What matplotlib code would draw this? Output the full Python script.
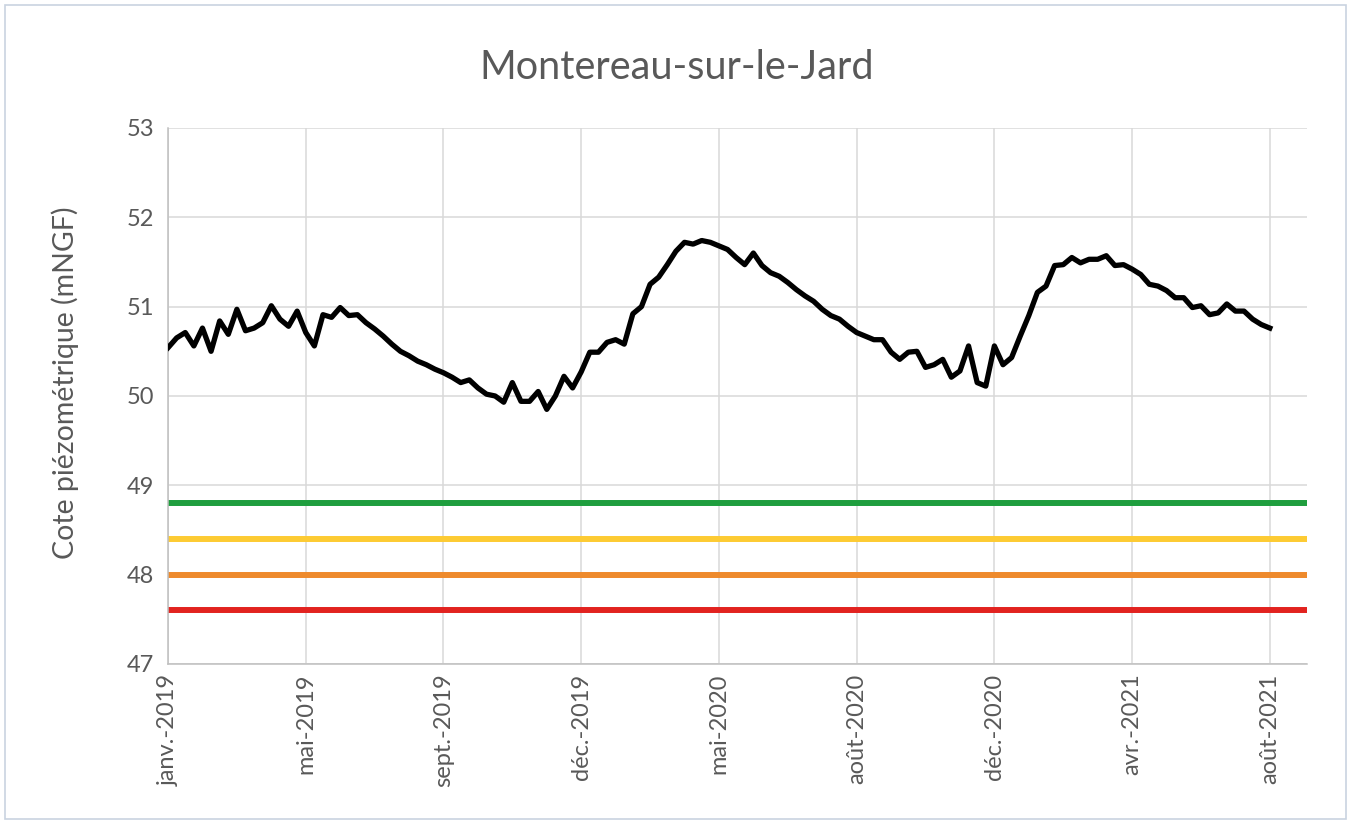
''' piezometric level - Montereau-sur-le-Jard '''

#%% import and data

import numpy as np
import matplotlib.pyplot as plt
from matplotlib.patches import Rectangle

# tick labels, one every 16 measurements
tickLabels = ['janv.-2019', 'mai-2019', 'sept.-2019', 'déc.-2019', 'mai-2020',
              'août-2020', 'déc.-2020', 'avr.-2021', 'août-2021']
nPerTick = 16

# measured level (mNGF)
level = [50.54, 50.65, 50.71, 50.56, 50.76, 50.50, 50.84, 50.69, 50.97, 50.73,
         50.76, 50.82, 51.01, 50.86, 50.78, 50.95, 50.71, 50.56, 50.91, 50.88,
         50.99, 50.90, 50.91, 50.82, 50.75, 50.67, 50.58, 50.50, 50.45, 50.39,
         50.35, 50.30, 50.26, 50.21, 50.15, 50.18, 50.09, 50.02, 50.00, 49.93,
         50.15, 49.94, 49.94, 50.05, 49.85, 50.00, 50.22, 50.09, 50.27, 50.49,
         50.49, 50.60, 50.63, 50.58, 50.92, 51.00, 51.25, 51.33, 51.47, 51.62,
         51.72, 51.70, 51.74, 51.72, 51.68, 51.64, 51.55, 51.47, 51.60, 51.46,
         51.38, 51.34, 51.27, 51.19, 51.12, 51.06, 50.97, 50.90, 50.86, 50.78,
         50.71, 50.67, 50.63, 50.63, 50.49, 50.41, 50.49, 50.50, 50.32, 50.35,
         50.41, 50.21, 50.28, 50.56, 50.15, 50.11, 50.56, 50.35, 50.43, 50.67,
         50.90, 51.16, 51.23, 51.46, 51.47, 51.55, 51.49, 51.53, 51.53, 51.57,
         51.46, 51.47, 51.42, 51.36, 51.25, 51.23, 51.18, 51.10, 51.10, 50.99,
         51.01, 50.91, 50.93, 51.03, 50.95, 50.95, 50.86, 50.80, 50.76]

# alert thresholds (mNGF)
thresholds = [48.8, 48.4, 48.0, 47.6]
thresholdColors = ['#1f9e3e', '#fdcb33', '#ee8a2c', '#e2231f']

#%% plot

x = np.arange(len(level))
grey = '#595959'

fig = plt.figure(figsize=(13.54, 8.24), dpi=100)
ax = fig.add_axes([0.1241, 0.1942, 0.8412, 0.6505])

for thr, col in zip(thresholds, thresholdColors):
    ax.axhline(thr, color=col, lw=4.3, zorder=2)

ax.plot(x, level, color='black', lw=3.8, zorder=3, solid_joinstyle='round')

ax.set_xlim(0, 8.27 * nPerTick)
ax.set_ylim(47, 53)
ax.set_yticks(np.arange(47, 54, 1))
ax.set_xticks(np.arange(len(tickLabels)) * nPerTick)
ax.set_xticklabels(tickLabels, rotation=90, fontsize=17, color=grey, family='Lato')
ax.set_yticklabels([str(v) for v in range(47, 54)], fontsize=17, color=grey, family='Lato')
ax.tick_params(axis='y', length=0, pad=10)
ax.tick_params(axis='x', length=0, pad=7)

ax.grid(True, color='#d9d9d9', lw=1.1, zorder=0)
ax.set_axisbelow(True)
for s in ['top', 'right']:
    ax.spines[s].set_visible(False)
for s in ['left', 'bottom']:
    ax.spines[s].set_color('#bfbfbf')
    ax.spines[s].set_linewidth(1.1)

ax.set_ylabel('Cote piézométrique (mNGF)', fontsize=20.5, color=grey, family='Lato')
ax.yaxis.set_label_coords(-0.078, 0.524)
fig.text(0.5, 0.918, 'Montereau-sur-le-Jard', ha='center', va='center',
         fontsize=28.5, color=grey, family='Lato')

# chart frame
fig.patches.append(Rectangle((0.004, 0.006), 0.99, 0.988, transform=fig.transFigure,
                             fill=False, edgecolor='#c9d3e0', lw=1.2))

fig.savefig('out.png', dpi=100)
